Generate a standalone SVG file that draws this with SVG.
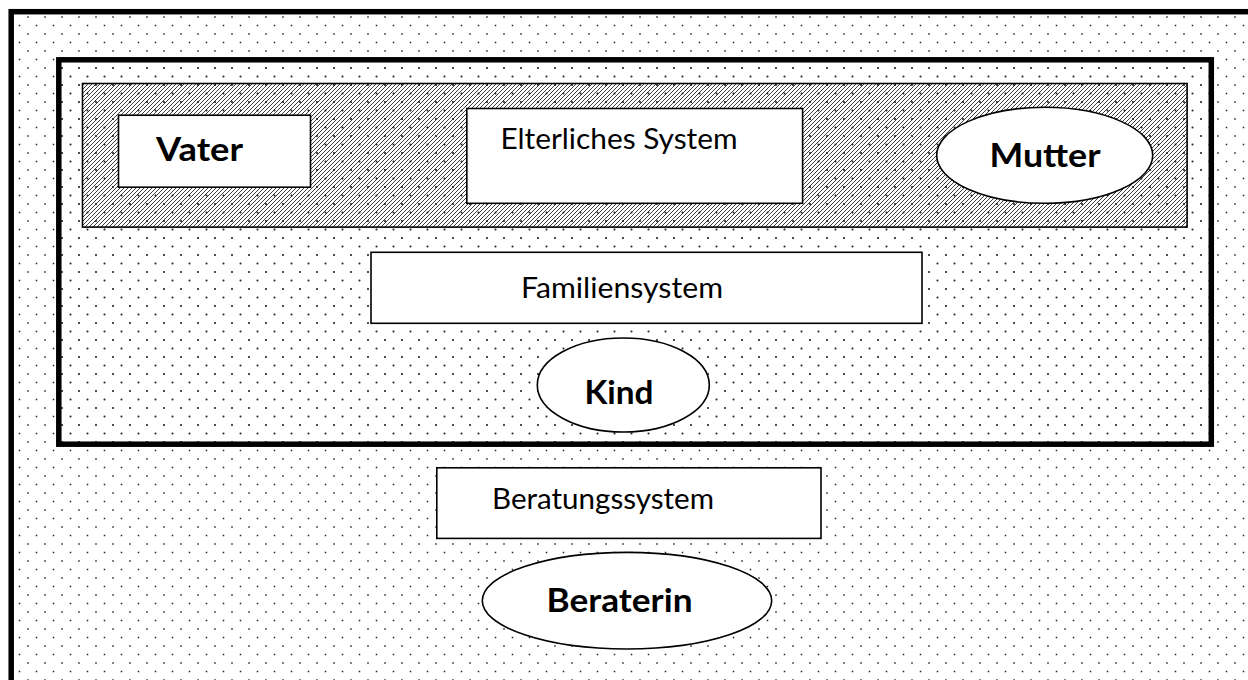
<svg xmlns="http://www.w3.org/2000/svg" width="1248" height="680" viewBox="0 0 1248 680">
  <defs>
    <!-- staggered dot screen used for the background systems -->
    <pattern id="dots" patternUnits="userSpaceOnUse" x="7" y="13" width="17" height="17">
      <rect x="3.25" y="3.25" width="1.5" height="1.5" fill="#222"/>
      <rect x="11.75" y="11.75" width="1.5" height="1.5" fill="#222"/>
    </pattern>
    <!-- dense diagonal hatching for the parental subsystem -->
    <pattern id="hatch" patternUnits="userSpaceOnUse" width="4" height="4">
      <path d="M-1,1 L1,-1 M0,4 L4,0 M3,5 L5,3" stroke="#1a1a1a" stroke-width="0.85" fill="none"/>
    </pattern>
    <style>
      .frame { fill: url(#dots); stroke: #000; stroke-width: 5.5; }
      .box { fill: #fff; stroke: #000; stroke-width: 1.6; }
      .lbl { font-family: Lato, "Open Sans", "Liberation Sans", sans-serif; font-size: 28px; fill: #000; }
      .bold { font-weight: bold; font-size: 31.5px; }
    </style>
  </defs>

  <rect width="1248" height="680" fill="#fff"/>

  <!-- counselling context (extends beyond the page) -->
  <g id="beratungskontext">
    <rect class="frame" x="11.2" y="11.7" width="1260" height="700"/>
  </g>

  <!-- family system frame -->
  <g id="familienrahmen">
    <rect class="frame" x="58.8" y="59.8" width="1152.5" height="384.4" stroke-width="5"/>
  </g>

  <!-- parental subsystem band -->
  <g id="elternband">
    <rect x="82.5" y="83.5" width="1104.6" height="143.6" fill="url(#hatch)" stroke="#000" stroke-width="1.6"/>
  </g>

  <g id="vater">
    <rect class="box" x="118.5" y="115.2" width="192" height="72"/>
    <text class="lbl bold" x="156" y="161" textLength="87" lengthAdjust="spacingAndGlyphs">Vater</text>
  </g>

  <g id="elterliches-system">
    <rect class="box" x="466.8" y="108.5" width="335.8" height="94.8"/>
    <text class="lbl" x="500.5" y="149" textLength="237" lengthAdjust="spacingAndGlyphs">Elterliches System</text>
  </g>

  <g id="mutter">
    <ellipse class="box" cx="1044.7" cy="155.3" rx="108" ry="48"/>
    <text class="lbl bold" x="989.5" y="166.7" textLength="111" lengthAdjust="spacingAndGlyphs">Mutter</text>
  </g>

  <g id="familiensystem">
    <rect class="box" x="371" y="252.3" width="551" height="71"/>
    <text class="lbl" x="521" y="297.5" textLength="202" lengthAdjust="spacingAndGlyphs">Familiensystem</text>
  </g>

  <g id="kind">
    <ellipse class="box" cx="623.3" cy="385" rx="86" ry="47"/>
    <text class="lbl bold" x="584.5" y="404.3" textLength="69" lengthAdjust="spacingAndGlyphs">Kind</text>
  </g>

  <g id="beratungssystem">
    <rect class="box" x="436.8" y="467.8" width="384.2" height="70.6"/>
    <text class="lbl" x="492" y="509.3" textLength="222" lengthAdjust="spacingAndGlyphs">Beratungssystem</text>
  </g>

  <g id="beraterin">
    <ellipse class="box" cx="627" cy="600.7" rx="144.7" ry="48.3"/>
    <text class="lbl bold" x="546.5" y="612.3" textLength="146" lengthAdjust="spacingAndGlyphs">Beraterin</text>
  </g>

  <g id="connectors"/>
</svg>
